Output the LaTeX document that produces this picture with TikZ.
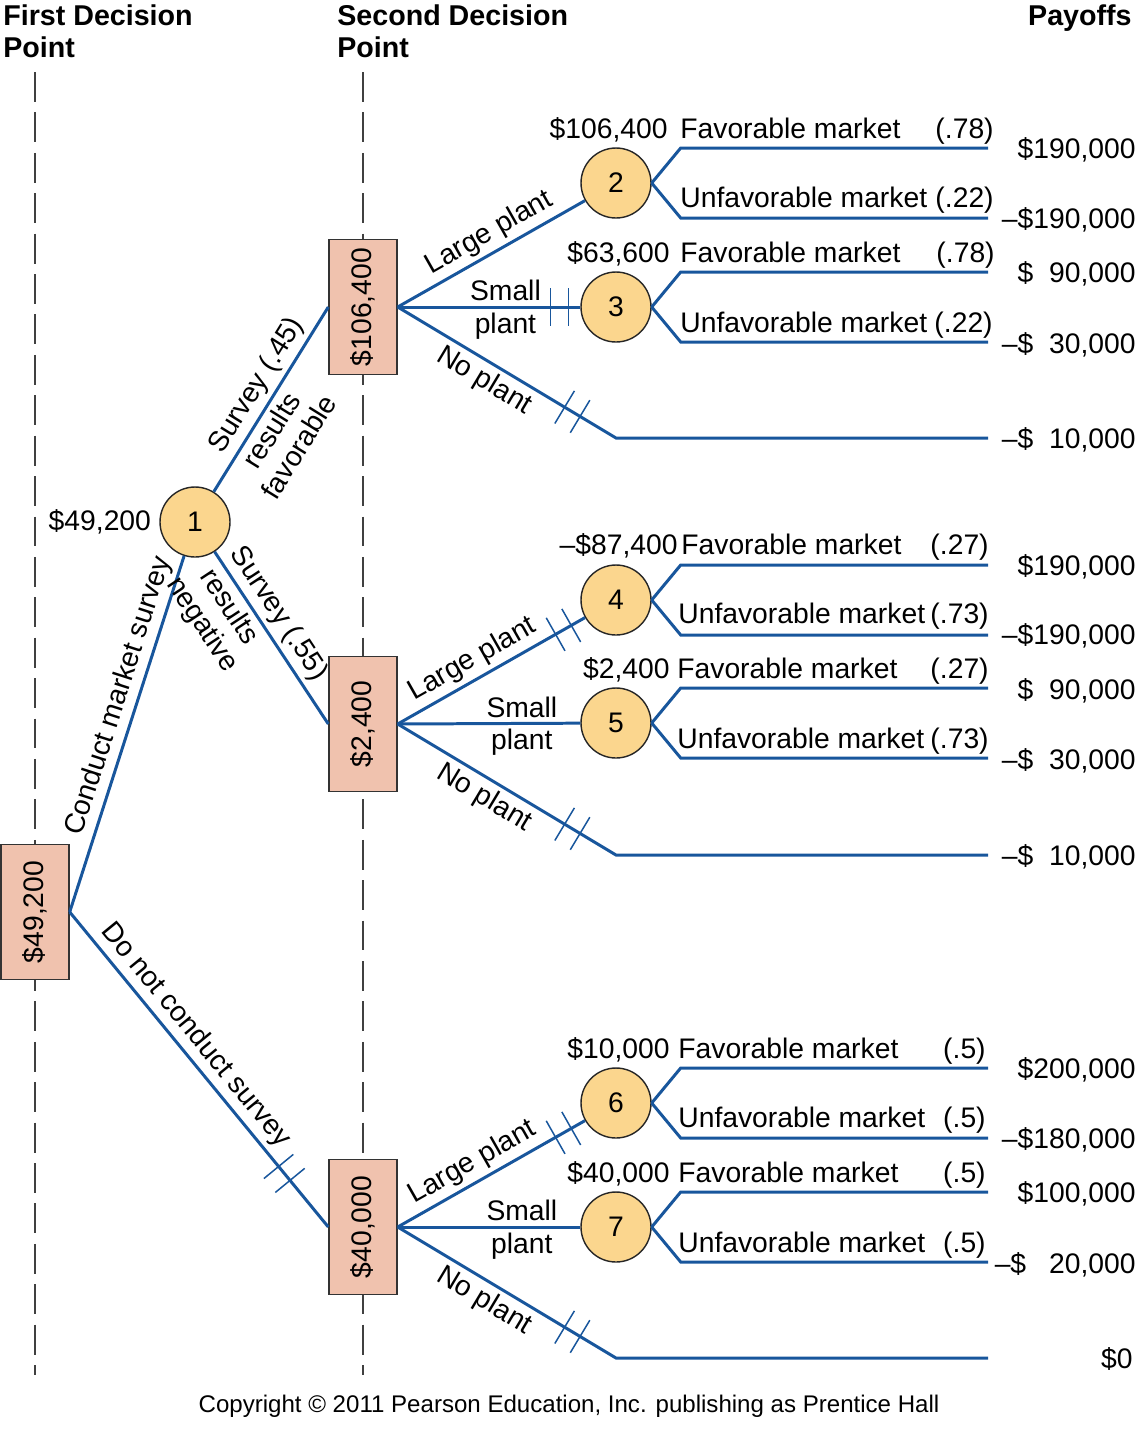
\documentclass[tikz,border=0pt]{standalone}
\usepackage{fontspec}
\setmainfont{Liberation Sans}
\usetikzlibrary{positioning, decorations.markings}
\definecolor{branchblue}{RGB}{24,86,156}
\definecolor{boxpink}{RGB}{240,194,174}
\definecolor{nodeyellow}{RGB}{251,214,142}

\begin{document}
\begin{tikzpicture}[x = 0.02cm, y = -0.02cm, font = \fontsize{16.1}{18.2}\selectfont,
  dbox/.style={draw = black!80, fill = boxpink, line width = 0.8pt, minimum width = 1.36cm, minimum height = 2.7cm, inner sep = 0pt},
  chance/.style={circle, draw = black!85, fill = nodeyellow, line width = 0.8pt, minimum size = 1.4cm, inner sep = 0pt},
  branch/.style={draw = branchblue, line width = 1.7pt},
  guide/.style={draw = black!75, line width = 0.8pt, dash pattern = on 17pt off 6pt},
  lbl/.style={inner sep = 2.5pt},
  cut line/.style={draw = branchblue, line width = 0.85pt},
  double cut/.style={postaction={decorate, decoration={markings, mark = at position #1 with {\draw [cut line] (-9,-19) -- (-9,19) (9,-19) -- (9,19);}}}}]
  \useasboundingbox (0,0) rectangle (1137,1438);

  % headers
  \node [anchor = north west, align = left, inner sep = 0pt, font = \fontsize{16.3}{18.2}\selectfont\bfseries] (first) at (3,4) {First Decision\\Point};
  \node [anchor = north west, align = left, inner sep = 0pt, font = \fontsize{16.3}{18.2}\selectfont\bfseries] (second) at (337,4) {Second Decision\\Point};
  \node [anchor = north east, inner sep = 0pt, font = \fontsize{16.3}{18.2}\selectfont\bfseries] (payoffs) at (1132,4) {Payoffs};

  \draw [guide] (35,72) -- (35,1375);
  \draw [guide] (363,72) -- (363,1375);

  % nodes
  \node [dbox] (d0) at (35,912) {\rotatebox{90}{\$49,200}};
  \node [dbox] (dA) at (363,307) {\rotatebox{90}{\$106,400}};
  \node [dbox] (dB) at (363,724) {\rotatebox{90}{\$2,400}};
  \node [dbox] (dC) at (363,1227) {\rotatebox{90}{\$40,000}};

  \node [chance] (n1) at (195,522) {1};
  \node [chance] (c2) at (616,183) {2};
  \node [chance] (c3) at (616,307) {3};
  \node [chance] (c4) at (616,600) {4};
  \node [chance] (c5) at (616,723) {5};
  \node [chance] (c6) at (616,1103) {6};
  \node [chance] (c7) at (616,1227) {7};

  \node [inner sep = 0pt][left = 0.16cm of n1] (v1) {\$49,200};

  \coordinate (npA) at (616,438);
  \coordinate (npB) at (616,855);
  \coordinate (npC) at (616,1358);
  \coordinate (eA) at (988,438);
  \coordinate (eB) at (988,855);
  \coordinate (eC) at (988,1358);
  \coordinate (c2u) at (988,148);
  \coordinate (c2d) at (988,218);
  \coordinate (c3u) at (988,272);
  \coordinate (c3d) at (988,342);
  \coordinate (c4u) at (988,565);
  \coordinate (c4d) at (988,635);
  \coordinate (c5u) at (988,688);
  \coordinate (c5d) at (988,758);
  \coordinate (c6u) at (988,1068);
  \coordinate (c6d) at (988,1138);
  \coordinate (c7u) at (988,1192);
  \coordinate (c7d) at (988,1262);

  % edges
  \draw [branch] (d0.east) -- node [lbl, sloped, above, pos = 0.59] (t1) {Conduct market survey} (n1);
  \draw [branch] (d0.east) -- node [lbl, sloped, above, pos = 0.43] (t2) {Do not conduct survey} (dC.west);
  \path [double cut = 0.83] (d0.east) -- (dC.west);

  \draw [branch] (n1) -- node [lbl, sloped, above, pos = 0.52] (t3) {Survey (.45)}
    node [lbl, sloped, below, pos = 0.38, align = center] (t4) {results\\favorable} (dA.west);
  \draw [branch] (n1) -- node [lbl, sloped, above, pos = 0.42] (t5) {Survey (.55)}
    node [lbl, sloped, below, pos = 0.26, align = center] (t6) {results\\negative} (dB.west);

  \draw [branch] (dA.east) -- node [lbl, sloped, above, pos = 0.54] (lA) {Large plant} (c2);
  \draw [branch] (dA.east) -- node [lbl, above, pos = 0.59] (sA) {Small} node [lbl, below, pos = 0.59] (sA2) {plant} (c3);
  \path [double cut = 0.886] (dA.east) -- (c3);
  \draw [branch] (dA.east) -- node [lbl, sloped, below, pos = 0.44] (nA) {No plant} (npA) -- (eA);
  \path [double cut = 0.8] (dA.east) -- (npA);

  \draw [branch] (dB.east) -- node [lbl, sloped, above, pos = 0.45] (lB) {Large plant} (c4);
  \path [double cut = 0.885] (dB.east) -- (c4);
  \draw [branch] (dB.east) -- node [lbl, above, pos = 0.68] (sB) {Small} node [lbl, below, pos = 0.68] (sB2) {plant} (c5);
  \draw [branch] (dB.east) -- node [lbl, sloped, below, pos = 0.44] (nB) {No plant} (npB) -- (eB);
  \path [double cut = 0.8] (dB.east) -- (npB);

  \draw [branch] (dC.east) -- node [lbl, sloped, above, pos = 0.45] (lC) {Large plant} (c6);
  \path [double cut = 0.885] (dC.east) -- (c6);
  \draw [branch] (dC.east) -- node [lbl, above, pos = 0.68] (sC) {Small} node [lbl, below, pos = 0.68] (sC2) {plant} (c7);
  \draw [branch] (dC.east) -- node [lbl, sloped, below, pos = 0.44] (nC) {No plant} (npC) -- (eC);
  \path [double cut = 0.8] (dC.east) -- (npC);

  \draw [branch] (c2.east) -- ++(29,-35) -- (c2u);
  \draw [branch] (c2.east) -- ++(29,35) -- (c2d);
  \draw [branch] (c3.east) -- ++(29,-35) -- (c3u);
  \draw [branch] (c3.east) -- ++(29,35) -- (c3d);
  \draw [branch] (c4.east) -- ++(29,-35) -- (c4u);
  \draw [branch] (c4.east) -- ++(29,35) -- (c4d);
  \draw [branch] (c5.east) -- ++(29,-35) -- (c5u);
  \draw [branch] (c5.east) -- ++(29,35) -- (c5d);
  \draw [branch] (c6.east) -- ++(29,-35) -- (c6u);
  \draw [branch] (c6.east) -- ++(29,35) -- (c6d);
  \draw [branch] (c7.east) -- ++(29,-35) -- (c7u);
  \draw [branch] (c7.east) -- ++(29,35) -- (c7d);

  % outcome labels
  \node [anchor = base east, inner sep = 0pt] (v2) at (668,138) {\$106,400};
  \node [anchor = base west, inner sep = 0pt] (f2) at (680,138) {Favorable market};
  \node [anchor = base east, inner sep = 0pt] (q2f) at (994,138) {(.78)};
  \node [anchor = base west, inner sep = 0pt] (u2) at (680,207) {Unfavorable market};
  \node [anchor = base east, inner sep = 0pt] (q2u) at (994,207) {(.22)};

  \node [anchor = base east, inner sep = 0pt] (v3) at (670,262) {\$63,600};
  \node [anchor = base west, inner sep = 0pt] (f3) at (680,262) {Favorable market};
  \node [anchor = base east, inner sep = 0pt] (q3f) at (995,262) {(.78)};
  \node [anchor = base west, inner sep = 0pt] (u3) at (680,332) {Unfavorable market};
  \node [anchor = base east, inner sep = 0pt] (q3u) at (993,332) {(.22)};

  \node [anchor = base east, inner sep = 0pt] (v4) at (678,554) {–\$87,400};
  \node [anchor = base west, inner sep = 0pt] (f4) at (681,554) {Favorable market};
  \node [anchor = base east, inner sep = 0pt] (q4f) at (989,554) {(.27)};
  \node [anchor = base west, inner sep = 0pt] (u4) at (678,623) {Unfavorable market};
  \node [anchor = base east, inner sep = 0pt] (q4u) at (989,623) {(.73)};

  \node [anchor = base east, inner sep = 0pt] (v5) at (670,678) {\$2,400};
  \node [anchor = base west, inner sep = 0pt] (f5) at (677,678) {Favorable market};
  \node [anchor = base east, inner sep = 0pt] (q5f) at (989,678) {(.27)};
  \node [anchor = base west, inner sep = 0pt] (u5) at (677,748) {Unfavorable market};
  \node [anchor = base east, inner sep = 0pt] (q5u) at (989,748) {(.73)};

  \node [anchor = base east, inner sep = 0pt] (v6) at (670,1058) {\$10,000};
  \node [anchor = base west, inner sep = 0pt] (f6) at (678,1058) {Favorable market};
  \node [anchor = base east, inner sep = 0pt] (q6f) at (986,1058) {(.5)};
  \node [anchor = base west, inner sep = 0pt] (u6) at (678,1127) {Unfavorable market};
  \node [anchor = base east, inner sep = 0pt] (q6u) at (986,1127) {(.5)};

  \node [anchor = base east, inner sep = 0pt] (v7) at (670,1182) {\$40,000};
  \node [anchor = base west, inner sep = 0pt] (f7) at (678,1182) {Favorable market};
  \node [anchor = base east, inner sep = 0pt] (q7f) at (986,1182) {(.5)};
  \node [anchor = base west, inner sep = 0pt] (u7) at (678,1252) {Unfavorable market};
  \node [anchor = base east, inner sep = 0pt] (q7u) at (986,1252) {(.5)};

  % payoffs
  \node [anchor = base east, inner sep = 0pt] (p1) at (1136,158) {\$190,000};
  \node [anchor = base east, inner sep = 0pt] (p2) at (1136,228) {–\$190,000};
  \node [anchor = base east, inner sep = 0pt] (p3) at (1136,282) {\$\phantom{1}90,000};
  \node [anchor = base east, inner sep = 0pt] (p4) at (1136,353) {–\$\phantom{1}30,000};
  \node [anchor = base east, inner sep = 0pt] (p5) at (1136,448) {–\$\phantom{1}10,000};
  \node [anchor = base east, inner sep = 0pt] (p6) at (1136,575) {\$190,000};
  \node [anchor = base east, inner sep = 0pt] (p7) at (1136,644) {–\$190,000};
  \node [anchor = base east, inner sep = 0pt] (p8) at (1136,699) {\$\phantom{1}90,000};
  \node [anchor = base east, inner sep = 0pt] (p9) at (1136,769) {–\$\phantom{1}30,000};
  \node [anchor = base east, inner sep = 0pt] (p10) at (1136,865) {–\$\phantom{1}10,000};
  \node [anchor = base east, inner sep = 0pt] (p11) at (1136,1078) {\$200,000};
  \node [anchor = base east, inner sep = 0pt] (p12) at (1136,1148) {–\$180,000};
  \node [anchor = base east, inner sep = 0pt] (p13) at (1136,1202) {\$100,000};
  \node [anchor = base east, inner sep = 0pt] (p14) at (1136,1273) {–\$\hspace{0.81em}20,000};
  \node [anchor = base east, inner sep = 0pt] (p15) at (1133,1368) {\$0};

  \node [anchor = base, inner sep = 0pt, font = \fontsize{13.7}{15}\selectfont] (copy) at (569,1412) {Copyright © 2011 Pearson Education, Inc. publishing as Prentice Hall};
\end{tikzpicture}
\end{document}
